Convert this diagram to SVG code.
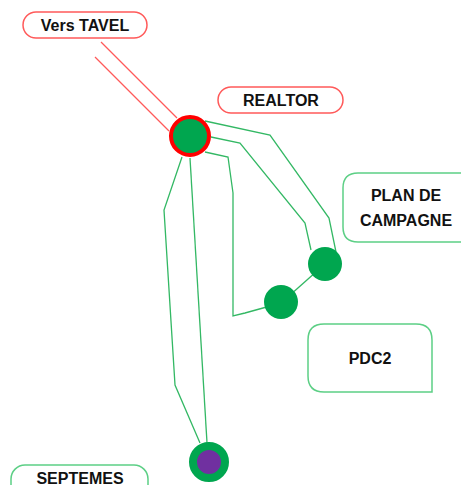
<svg xmlns="http://www.w3.org/2000/svg" width="461" height="485" viewBox="0 0 461 485">
<style>
.lbl{font-family:"Liberation Sans",Arial,sans-serif;font-weight:bold;font-size:16px;fill:#111;text-anchor:middle}
.rbox{fill:#fff;stroke:#ff5a5a;stroke-width:1.5}
.gbox{fill:#fff;stroke:#5ccf85;stroke-width:1.5}
.gl{fill:none;stroke:#33b864;stroke-width:1.3}
.rl{fill:none;stroke:#ff5a5a;stroke-width:1.3}
.st{fill:#00a64f}
</style>
<rect width="461" height="485" fill="#fff"/>
<g id="connectors">
<line class="rl" x1="101" y1="42" x2="177" y2="118"/>
<line class="rl" x1="95" y1="57" x2="169" y2="131"/>
<polyline class="gl" points="205,121 270,135 329,218 336,252"/>
<polyline class="gl" points="211,137 240,143 305,223 311,250"/>
<path class="gl" d="M205,152 L228,157 L233,193 L233,316 L245,313 L281,303"/>
<line class="gl" x1="281" y1="303" x2="325" y2="264"/>
<polyline class="gl" points="182,157 164,210 175,385 200,443"/>
<line class="gl" x1="190" y1="158" x2="207" y2="443"/>
</g>
<g id="vers-tavel">
<rect class="rbox" x="23" y="12" width="124" height="26" rx="13"/>
<text class="lbl" x="85" y="31">Vers TAVEL</text>
</g>
<g id="realtor-label">
<rect class="rbox" x="218" y="87" width="125" height="26" rx="13"/>
<text class="lbl" x="281" y="106">REALTOR</text>
</g>
<g id="realtor">
<circle cx="190" cy="136" r="19" fill="#00a64f" stroke="#ff0000" stroke-width="4"/>
</g>
<g id="node-plan">
<circle class="st" cx="325" cy="264" r="17"/>
</g>
<g id="node-pdc2">
<circle class="st" cx="281" cy="302" r="17"/>
</g>
<g id="plan-de-campagne">
<path class="gbox" d="M358,173 L462,173 L462,242 L358,242 Q343,242 343,227 L343,188 Q343,173 358,173 Z"/>
<text class="lbl" x="406" y="201">PLAN DE</text>
<text class="lbl" x="406" y="226">CAMPAGNE</text>
</g>
<g id="pdc2">
<path class="gbox" d="M324,324 L416,324 Q432,324 432,340 L432,392 L324,392 Q308,392 308,376 L308,340 Q308,324 324,324 Z"/>
<text class="lbl" x="370" y="364">PDC2</text>
</g>
<g id="septemes">
<circle cx="209" cy="462" r="16" fill="#7030a0" stroke="#00a64f" stroke-width="8"/>
</g>
<g id="septemes-label">
<rect class="gbox" x="11" y="465" width="137" height="40" rx="14"/>
<text class="lbl" x="80" y="484">SEPTEMES</text>
</g>
</svg>
